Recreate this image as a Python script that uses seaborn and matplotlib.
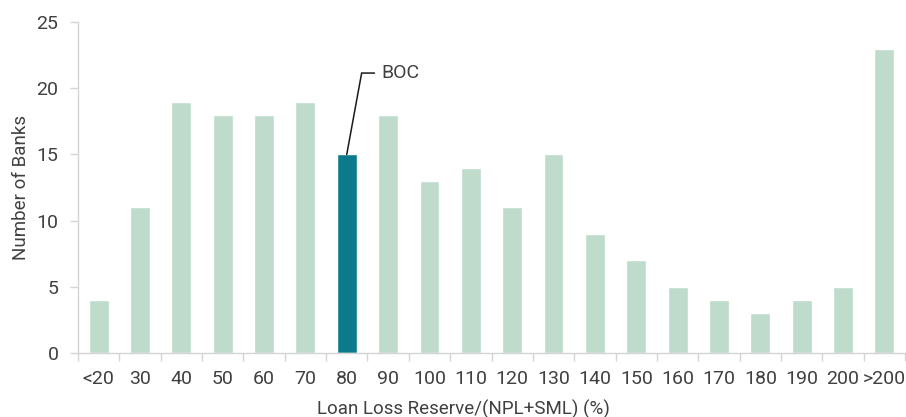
import matplotlib
matplotlib.use("Agg")
import matplotlib.pyplot as plt
import seaborn as sns
import pandas as pd
import numpy as np

categories = ["<20", "30", "40", "50", "60", "70", "80", "90", "100", "110",
              "120", "130", "140", "150", "160", "170", "180", "190", "200", ">200"]
num_banks = [4, 11, 19, 18, 18, 19, 15, 18, 13, 14, 11, 15, 9, 7, 5, 4, 3, 4, 5, 23]
highlight = "80"
highlight_label = "BOC"

light_color = "#BEDBCC"
dark_color = "#0C7A8B"
text_color = "#404040"
axis_color = "#d4d4d4"

sns.set_theme(style="white")
plt.rcParams["font.family"] = ["Roboto", "DejaVu Sans"]

df = pd.DataFrame({"bucket": categories, "banks": num_banks})
palette = {c: (dark_color if c == highlight else light_color) for c in categories}

fig = plt.figure(figsize=(9.06, 4.17), dpi=100)
ax = fig.add_axes([0.086, 0.1535, 0.913, 0.7935])

sns.barplot(data=df, x="bucket", y="banks", hue="bucket", palette=palette,
            order=categories, width=0.48, legend=False, ax=ax, saturation=1)

ax.set_xlim(-0.5, len(categories) - 0.5)
ax.set_ylim(0, 25)
ax.set_yticks([0, 5, 10, 15, 20, 25])

for side in ["top", "right"]:
    ax.spines[side].set_visible(False)
for side in ["left", "bottom"]:
    ax.spines[side].set_color(axis_color)
    ax.spines[side].set_linewidth(1)

# x ticks sit at bin boundaries; labels sit under bars
ax.set_xticks(np.arange(len(categories) + 1) - 0.5, minor=True)
ax.tick_params(axis="x", which="minor", length=6, width=1, color=axis_color, bottom=True)
ax.tick_params(axis="x", which="major", length=0, pad=12, labelsize=14, labelcolor=text_color)
ax.tick_params(axis="y", which="major", length=6, width=1, color=axis_color, left=True,
               pad=8, labelsize=14, labelcolor=text_color)

ax.set_xlabel("Loan Loss Reserve/(NPL+SML) (%)", fontsize=13.5, color=text_color)
ax.xaxis.set_label_coords(0.466, -0.14)
ax.set_ylabel("Number of Banks", fontsize=13.5, color=text_color, labelpad=5)

# callout for the highlighted bucket
idx = categories.index(highlight)
top = num_banks[idx]
ax.plot([idx, idx + 0.36, idx + 0.67], [top, 21.15, 21.15], color="#1a1a1a", lw=1.1,
        solid_joinstyle="miter")
ax.text(idx + 0.84, 21.15, highlight_label, fontsize=14, color=text_color,
        va="center", ha="left")

fig.savefig("out.png", dpi=100)
